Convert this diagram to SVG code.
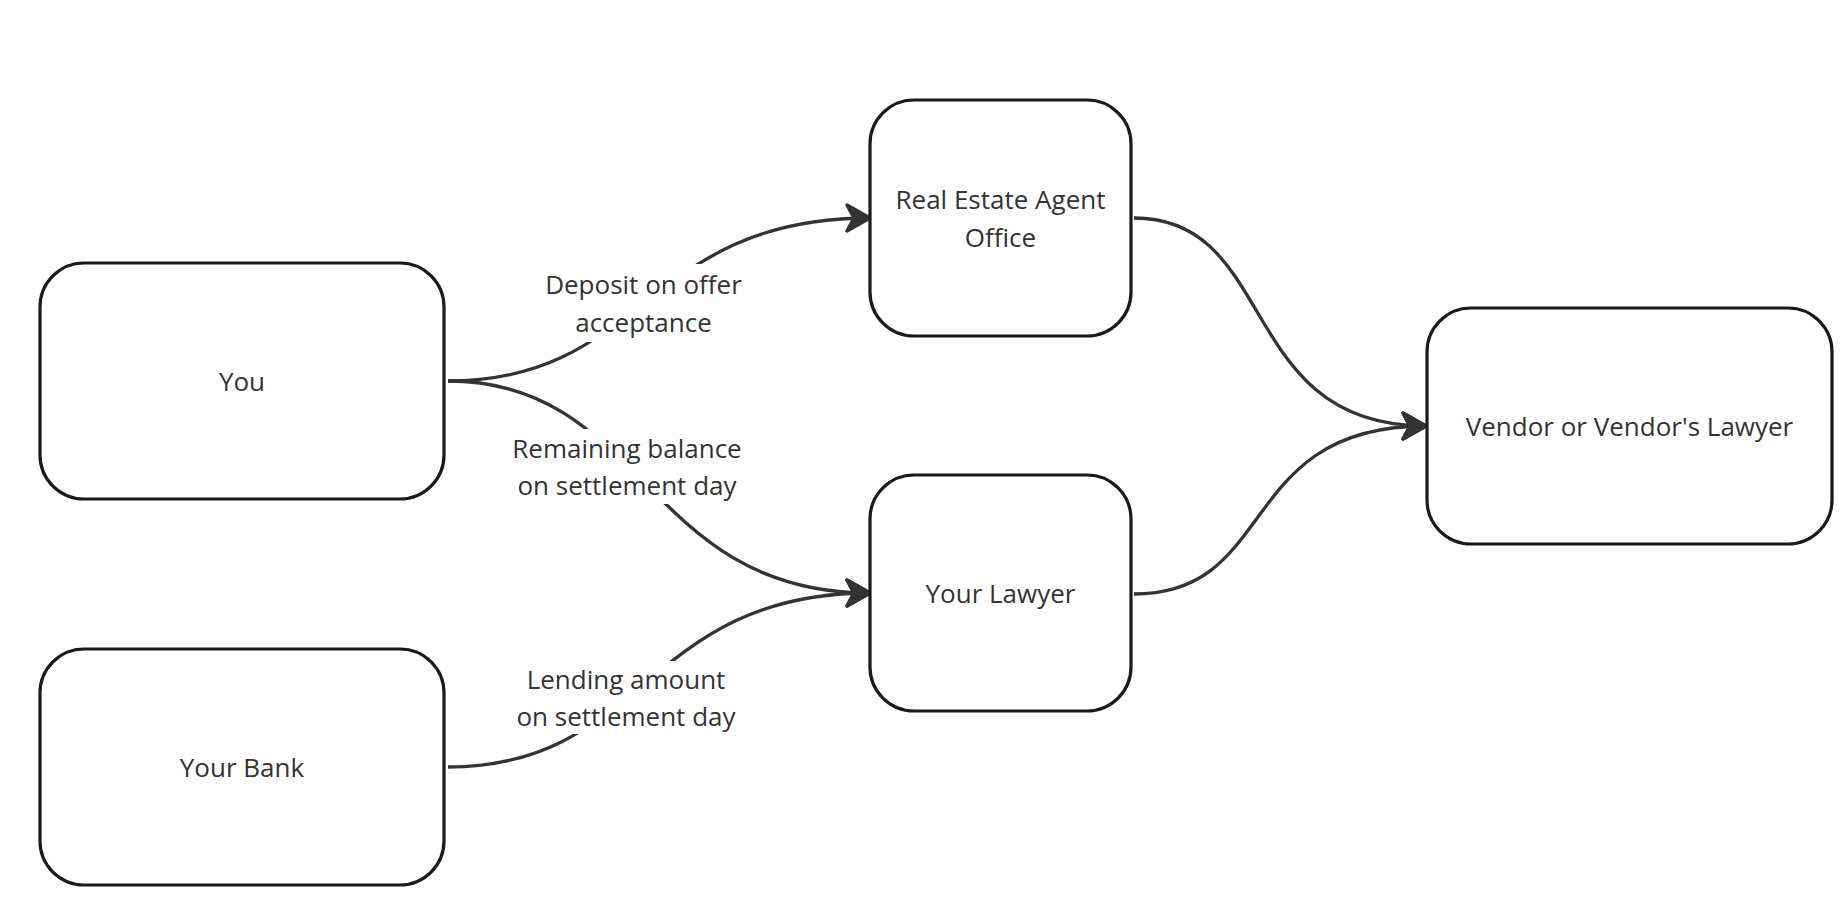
<svg xmlns="http://www.w3.org/2000/svg" width="1848" height="923" viewBox="0 0 1848 923">
  <defs>
    <marker id="arrow" markerUnits="userSpaceOnUse" markerWidth="34" markerHeight="34" viewBox="-30 -17 34 34" refX="0" refY="0" orient="auto">
      <path d="M -23 -13 L 0 0 L -23 13 L -16 0 Z" fill="#333" stroke="#333" stroke-width="3.5" stroke-linejoin="round"/>
    </marker>
  </defs>
  <style>
    .node rect { fill: #ffffff; stroke: #1a1a1a; stroke-width: 3.2; }
    .conn { fill: none; stroke: #333333; stroke-width: 3.3; }
    .label { font-family: "Open Sans", "Noto Sans", "Liberation Sans", sans-serif; font-size: 26px; fill: #333333; text-anchor: middle; dominant-baseline: central; }
    .lblbg { fill: #ffffff; stroke: none; }
  </style>
  <rect width="1848" height="923" fill="#ffffff"/>

  <g id="connectors">
    <path class="conn" d="M 448 381 C 645 381, 645 218, 870 218" marker-end="url(#arrow)"/>
    <path class="conn" d="M 448 381 C 645 381, 645 593, 870 593" marker-end="url(#arrow)"/>
    <path class="conn" d="M 448 767 C 645 767, 645 593, 870 593" marker-end="url(#arrow)"/>
    <path class="conn" d="M 1134 218 C 1279 218, 1236 426, 1426 426" marker-end="url(#arrow)"/>
    <path class="conn" d="M 1134 594 C 1279 594, 1236 426, 1426 426" marker-end="url(#arrow)"/>
    <g id="label-deposit">
      <rect class="lblbg" x="538" y="264" width="211" height="78"/>
      <text class="label" x="643.5" y="284">Deposit on offer</text>
      <text class="label" x="643.5" y="322">acceptance</text>
    </g>
    <g id="label-remaining">
      <rect class="lblbg" x="506" y="429" width="242" height="75"/>
      <text class="label" x="627" y="448">Remaining balance</text>
      <text class="label" x="627" y="485">on settlement day</text>
    </g>
    <g id="label-lending">
      <rect class="lblbg" x="508" y="661" width="236" height="73"/>
      <text class="label" x="626" y="679">Lending amount</text>
      <text class="label" x="626" y="716">on settlement day</text>
    </g>
  </g>

  <g id="node-you" class="node">
    <rect x="40" y="263" width="404" height="236" rx="44" ry="44"/>
    <text class="label" x="242" y="381">You</text>
  </g>
  <g id="node-bank" class="node">
    <rect x="40" y="649" width="404" height="236" rx="44" ry="44"/>
    <text class="label" x="242" y="767">Your Bank</text>
  </g>
  <g id="node-agent" class="node">
    <rect x="870" y="100" width="261" height="236" rx="44" ry="44"/>
    <text class="label" x="1000.5" y="199">Real Estate Agent</text>
    <text class="label" x="1000.5" y="237">Office</text>
  </g>
  <g id="node-lawyer" class="node">
    <rect x="870" y="475" width="261" height="236" rx="44" ry="44"/>
    <text class="label" x="1000.5" y="593">Your Lawyer</text>
  </g>
  <g id="node-vendor" class="node">
    <rect x="1427" y="308" width="405" height="236" rx="44" ry="44"/>
    <text class="label" x="1629.5" y="426">Vendor or Vendor's Lawyer</text>
  </g>
</svg>
